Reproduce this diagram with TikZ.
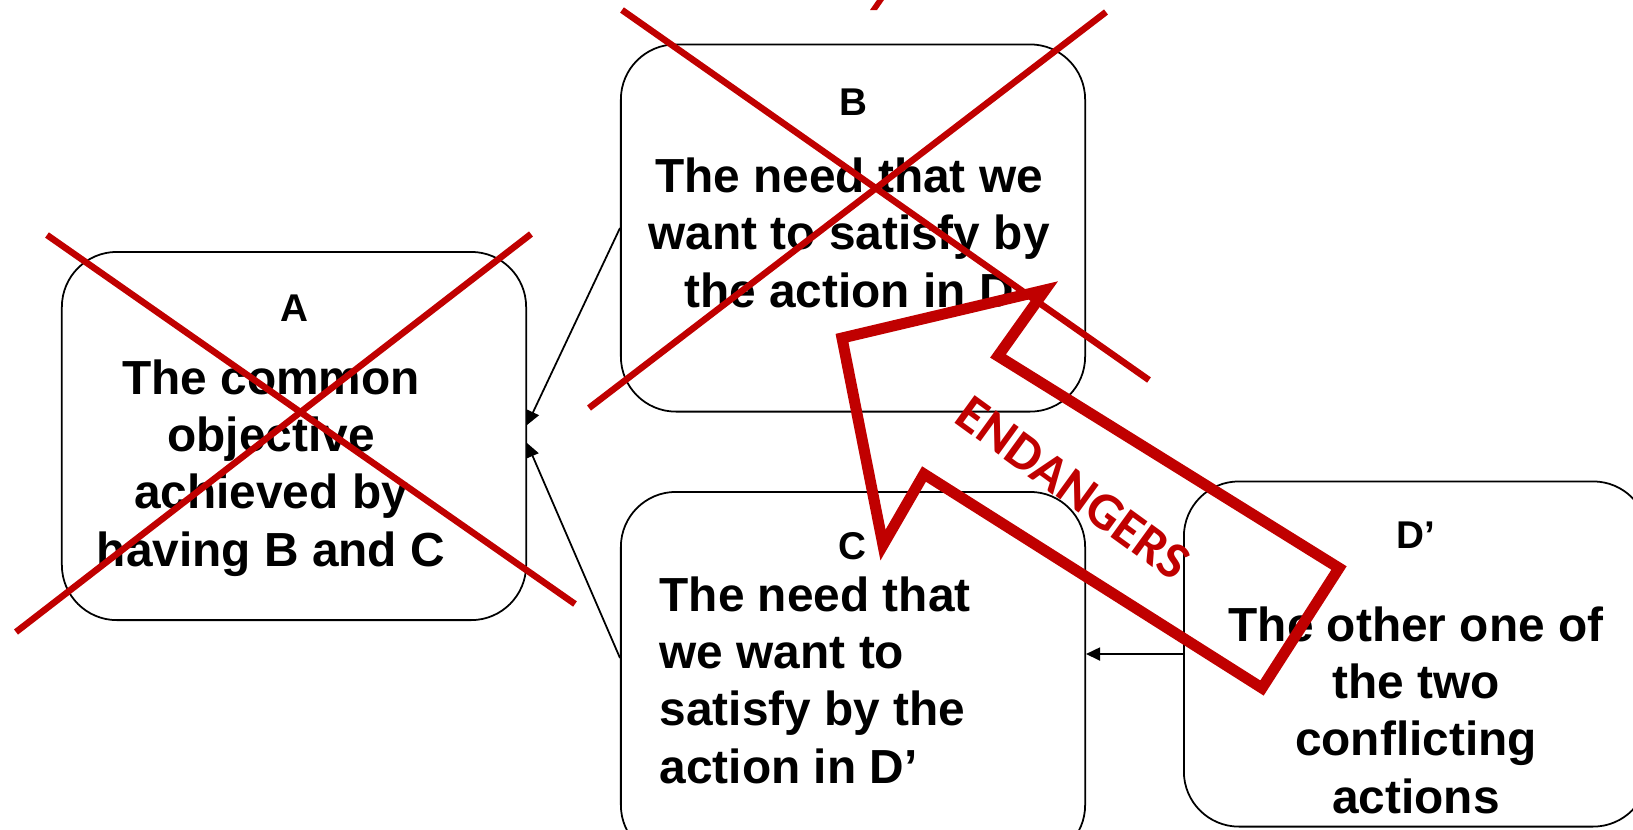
\documentclass[tikz,border=0pt]{standalone}
\usepackage{fontspec}
\setmainfont{Liberation Sans}
\newfontfamily\calfont{Carlito}
\usetikzlibrary{arrows.meta}
\definecolor{crossred}{RGB}{192,0,0}
\tikzset{
  box/.style={draw,line width=0.5pt,rounded corners=0.55cm,minimum width=4.64cm,inner sep=0pt},
  ttl/.style={anchor=base,inner sep=0pt,font=\fontsize{11}{13}\selectfont\bfseries},
  txt/.style={anchor=base,align=center,inner sep=0pt,font=\fontsize{13.6}{16.3}\selectfont\bfseries},
  link/.style={line width=0.5pt,-{Triangle[length=0.14cm,width=0.13cm]}},
  cross/.style={crossred,line width=0.065cm}
}
\begin{document}
\begin{tikzpicture}[x=0.01cm,y=-0.01cm]
  \useasboundingbox (0,0) rectangle (1633,829);
  \clip (0,0) rectangle (1633,829);

  % Boxes
  \node[box,minimum height=3.68cm] (A) at (294,436) {};
  \node[box,minimum height=3.67cm] (B) at (853,228) {};
  \node[box,minimum height=3.68cm] (C) at (853,676) {};
  \node[box,minimum height=3.45cm] (D) at (1416,654) {};

  % Titles
  \node[ttl] (Atitle) at (294,321) {A};
  \node[ttl] (Btitle) at (853,115) {B};
  \node[ttl] (Ctitle) at (852,559) {C};
  \node[ttl] (Dtitle) at (1416,548) {D’};

  % Texts (placed at the baseline of the last line)
  \node[txt] (Atext) at (271,566) {The common\\objective\\achieved by\\having B and C};
  \node[txt] (Btext) at (849,307) {The need that we\\want to satisfy by\\the action in D};
  \node[txt,align=left,anchor=base west] (Ctext) at (659,783) {The need that\\we want to\\satisfy by the\\action in D’};
  \node[txt] (Dtext) at (1416,813) {The other one of\\the two\\conflicting\\actions};

  % Connectors
  \draw[link] (B.west) -- ([yshift=0.11cm]A.east);
  \draw[link] ([yshift=0.18cm]C.west) -- ([yshift=-0.07cm]A.east);
  \draw[link] (D.west) -- (C.east |- D.west);

  % Red crosses
  \draw[cross] (47,235) -- (575,604);
  \draw[cross] (16,632) -- (531,234);
  \draw[cross] (622,10) -- (1149,380);
  \draw[cross] (1106,12) -- (589,408);
  \fill[crossred] (870,10) -- (877,10) -- (886,-3) -- (879,-3) -- cycle;

  % Endangers arrow
  \draw[cross,line width=0.11cm] (842,338) -- (1045,290) -- (998,356) -- (1339,568)
    -- (1262,688) -- (924,474) -- (883,545) -- cycle;
  \node[rotate=-36,text=crossred,inner sep=0pt,font=\calfont\fontsize{15}{17}\selectfont\bfseries] (warn) at (1073,488) {ENDANGERS};
\end{tikzpicture}
\end{document}
